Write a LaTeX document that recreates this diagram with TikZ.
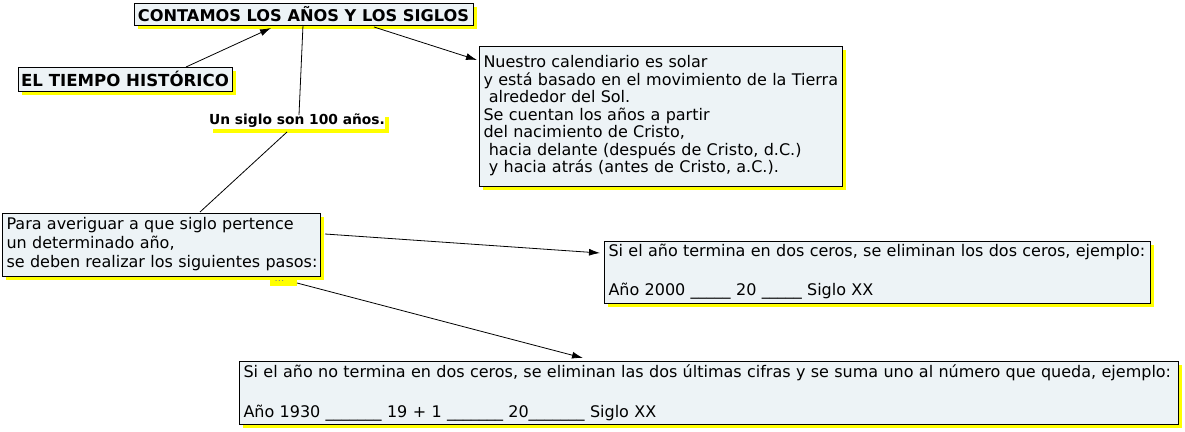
\documentclass[tikz,border=0pt]{standalone}
\usepackage{fontspec}
\setmainfont{DejaVu Sans}
\usetikzlibrary{shadows,arrows.meta,calc}
\definecolor{boxfill}{RGB}{237,243,246}
\definecolor{shadowyellow}{RGB}{255,255,0}
\tikzset{
  ysh/.style={drop shadow={fill=shadowyellow, shadow xshift=4pt, shadow yshift=-4pt, opacity=1}},
  cbox/.style={ysh, draw=black, line width=0.9pt, fill=boxfill, anchor=north west, inner xsep=4.5pt, inner ysep=0pt, outer sep=0pt},
  lbl/.style={ysh, fill=white, anchor=north west, inner sep=0pt, outer sep=0pt},
  link/.style={line width=0.8pt, draw=black},
  arr/.style={link, -{Latex[length=11pt,width=7pt]}},
  txt/.style={font=\fontsize{16}{#1}\selectfont, align=left},
}
\begin{document}
\begin{tikzpicture}[x=1pt,y=-1pt]
\useasboundingbox (0,0) rectangle (1185,431);
% title
\node[cbox, inner xsep=0pt, minimum width=339pt, minimum height=22pt, font=\fontsize{16.2}{18}\bfseries] (title) at (134,3) {CONTAMOS LOS AÑOS Y LOS SIGLOS};
\node[cbox, inner xsep=0pt, minimum width=214pt, minimum height=24pt, font=\fontsize{16.6}{18}\bfseries] (tiempo) at (18,67) {EL TIEMPO HISTÓRICO};
\node[lbl, minimum width=176pt, minimum height=16pt, font=\fontsize{13.8}{15}\bfseries] (siglo) at (209,113) {Un siglo son 100 años.};
\node[cbox, minimum width=363pt, minimum height=140pt, text width=354pt, txt=17.5] (nuestro) at (479,46) {\mbox{Nuestro calendiario es solar}\\
\mbox{y está basado en el movimiento de la Tierra}\\
\mbox{\ alrededor del Sol.}\\
\mbox{Se cuentan los años a partir}\\
\mbox{del nacimiento de Cristo,}\\
\mbox{\ hacia delante (después de Cristo, d.C.)}\\
\mbox{\ y hacia atrás (antes de Cristo, a.C.).}};
\node[ysh, anchor=north west, fill=none, inner sep=1pt, outer sep=0pt, minimum width=27pt, minimum height=16pt, text height=14pt, text depth=0pt, text=gray, font=\fontsize{10}{10}\selectfont] (dots) at (266,266) {...};
\node[cbox, minimum width=318pt, minimum height=63pt, text width=309pt, txt=19] (para) at (2,213) {\mbox{Para averiguar a que siglo pertence}\\
\mbox{un determinado año,}\\
\mbox{se deben realizar los siguientes pasos:}};
\node[cbox, minimum width=546pt, minimum height=62pt, text width=537pt, txt=19.5] (siel) at (604,241) {\mbox{Si el año termina en dos ceros, se eliminan los dos ceros, ejemplo:}\\
\mbox{}\\
\mbox{Año 2000 \_\_\_\_\_ 20 \_\_\_\_\_ Siglo XX}};
\node[cbox, minimum width=939pt, minimum height=63pt, text width=930pt, txt=20] (bottom) at (239,361) {\mbox{Si el año no termina en dos ceros, se eliminan las dos últimas cifras y se suma uno al número que queda, ejemplo:}\\
\mbox{}\\
\mbox{Año 1930 \_\_\_\_\_\_\_ 19 + 1 \_\_\_\_\_\_\_ 20\_\_\_\_\_\_\_ Siglo XX}};
% connectors
\draw[arr] ($(tiempo.north west)+(168,0)$) -- ($(title.south west)+(137,3)$);
\draw[link] ($(title.south west)+(169,0)$) -- ($(siglo.north west)+(90,2)$);
\draw[link] ($(siglo.south west)+(78,3)$) -- ($(para.north west)+(198,-1)$);
\draw[arr] ($(title.south west)+(240,2)$) -- ($(nuestro.north west)+(-2,14)$);
\draw[arr] ($(para.north east)+(5,21)$) -- ($(siel.north west)+(-4,12)$);
\draw[arr] ($(dots.south east)+(4,1)$) -- ($(bottom.north west)+(344,-3)$);
\end{tikzpicture}
\end{document}
